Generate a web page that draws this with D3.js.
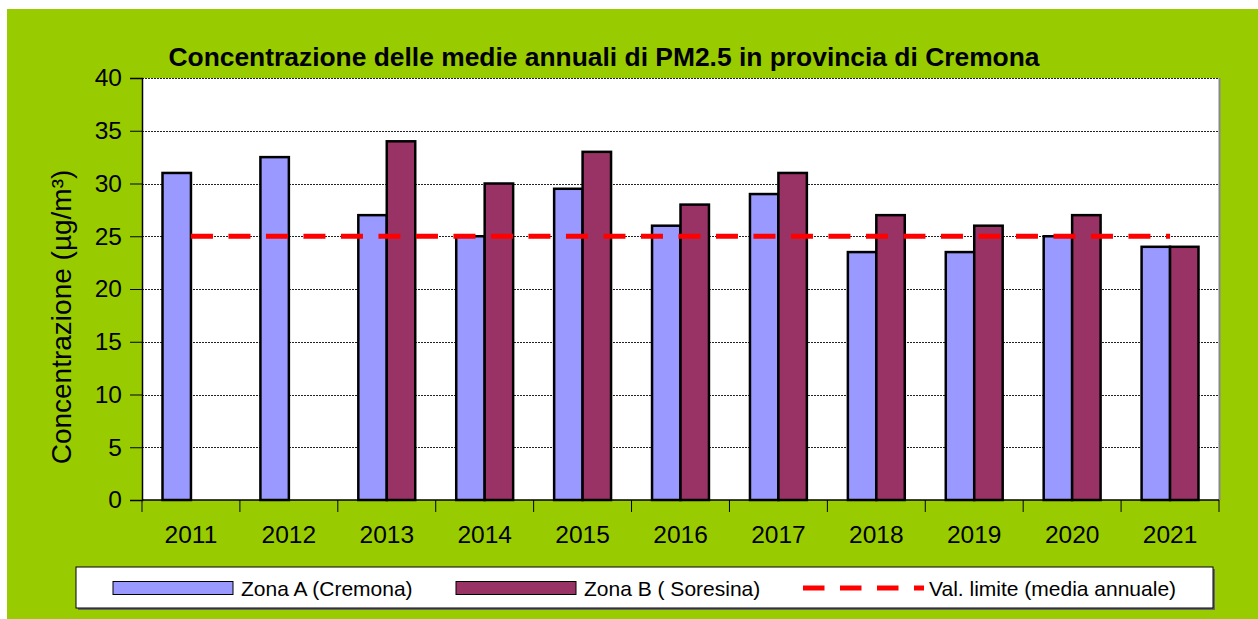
<!DOCTYPE html>
<html>
<head>
<meta charset="utf-8">
<script src="https://cdn.jsdelivr.net/npm/d3@7"></script>
<style>
  html, body { margin: 0; padding: 0; background: #fff; }
  svg { display: block; }
  text { font-family: "Liberation Sans", Arial, sans-serif; }
</style>
</head>
<body>
<svg id="chart" width="1258" height="619"></svg>
<script>
const years = ["2011","2012","2013","2014","2015","2016","2017","2018","2019","2020","2021"];
const zonaA = [31, 32.5, 27, 25, 29.5, 26, 29, 23.5, 23.5, 25, 24];
const zonaB = [null, null, 34, 30, 33, 28, 31, 27, 26, 27, 24];
const limite = [25, 25, 25, 25, 25, 25, 25, 25, 25, 25, 25];
const yTicks = [0, 5, 10, 15, 20, 25, 30, 35, 40];
const seriesNames = ["Zona A (Cremona)", "Zona B ( Soresina)", "Val. limite (media annuale)"];
const colors = ["#9999FF", "#993366", "#FF0000"];
const titleText = "Concentrazione delle medie annuali di PM2.5 in provincia di Cremona";
const yTitleText = "Concentrazione (µg/m³)";

const svg = d3.select("#chart");
const W = 1258, H = 619;
const plot = {left: 142, right: 1219, top: 78, bottom: 500};

// background
svg.append("rect").attr("x", 0).attr("y", 0).attr("width", W).attr("height", H).attr("fill", "#fff");
svg.append("rect").attr("x", 7).attr("y", 9).attr("width", W - 7).attr("height", H - 9).attr("fill", "#99CC00");

const x = d3.scaleBand().domain(years).range([plot.left, plot.right]).padding(0);
const xs = d3.scaleBand().domain(["A", "B"]).range([20.5, x.bandwidth() - 20.5]).padding(0);
const y = d3.scaleLinear().domain([0, 40]).range([plot.bottom, plot.top]);

// plot area
svg.append("rect").attr("x", plot.left).attr("y", plot.top)
  .attr("width", plot.right - plot.left).attr("height", plot.bottom - plot.top)
  .attr("fill", "#fff");

// gridlines
svg.append("g").selectAll("line").data(yTicks.filter(d => d > 0)).join("line")
  .attr("x1", plot.left).attr("x2", plot.right)
  .attr("y1", d => Math.round(y(d)) + 0.5).attr("y2", d => Math.round(y(d)) + 0.5)
  .attr("stroke", "#222").attr("stroke-width", 1).attr("stroke-dasharray", "2,1");

// right border
svg.append("line").attr("x1", plot.right + 0.5).attr("x2", plot.right + 0.5)
  .attr("y1", plot.top).attr("y2", plot.bottom)
  .attr("stroke", "#888").attr("stroke-width", 2);

// bars
const bars = [];
years.forEach((yr, i) => {
  if (zonaA[i] != null) bars.push({yr, s: "A", v: zonaA[i], c: colors[0]});
  if (zonaB[i] != null) bars.push({yr, s: "B", v: zonaB[i], c: colors[1]});
});
svg.append("g").selectAll("rect").data(bars).join("rect")
  .attr("x", d => x(d.yr) + xs(d.s))
  .attr("y", d => y(d.v))
  .attr("width", xs.bandwidth())
  .attr("height", d => y(0) - y(d.v))
  .attr("fill", d => d.c)
  .attr("stroke", "#000").attr("stroke-width", 2.5);

// limit line
const line = d3.line().x((d, i) => x(years[i]) + x.bandwidth() / 2).y(d => y(d));
svg.append("path").datum(limite).attr("d", line)
  .attr("fill", "none").attr("stroke", colors[2]).attr("stroke-width", 5)
  .attr("stroke-dasharray", "22,15.5");

// axes
const yAxis = d3.axisLeft(y).tickValues(yTicks).tickSize(12).tickPadding(8);
const gy = svg.append("g").attr("transform", `translate(${plot.left},0)`).call(yAxis);
gy.select(".domain").attr("stroke", "#000").attr("stroke-width", 1.5);
gy.selectAll(".tick line").attr("stroke", "#000");
gy.selectAll(".tick text").attr("font-size", 24.5).attr("fill", "#000")
  .attr("font-family", "Liberation Sans, Arial, sans-serif");

const xAxis = d3.axisBottom(x).tickSize(0).tickPadding(0);
const gx = svg.append("g").attr("transform", `translate(0,${plot.bottom})`).call(xAxis);
gx.select(".domain").remove();
gx.append("line").attr("x1", plot.left).attr("x2", plot.right).attr("y1", 0).attr("y2", 0)
  .attr("stroke", "#000").attr("stroke-width", 1.5);
gx.selectAll(".tick text").attr("font-size", 24.5).attr("fill", "#000").attr("dy", 0)
  .attr("y", 43).attr("font-family", "Liberation Sans, Arial, sans-serif");
// category boundary ticks
const bounds = years.map(d => x(d)).concat([plot.right]);
gx.append("g").selectAll("line").data(bounds).join("line")
  .attr("x1", d => d).attr("x2", d => d).attr("y1", 0).attr("y2", 12)
  .attr("stroke", "#000").attr("stroke-width", 1);

// title
svg.append("text").attr("x", 604).attr("y", 66).attr("text-anchor", "middle")
  .attr("font-size", 26.4).attr("font-weight", "bold").attr("fill", "#000")
  .text(titleText);

// y title
svg.append("text").attr("transform", "translate(71,317) rotate(-90)")
  .attr("text-anchor", "middle").attr("font-size", 28).attr("fill", "#000")
  .text(yTitleText);

// legend
const lg = {x: 76, y: 567, w: 1137, h: 41};
svg.append("rect").attr("x", lg.x + 2).attr("y", lg.y + 2).attr("width", lg.w).attr("height", lg.h).attr("fill", "#666");
svg.append("rect").attr("x", lg.x).attr("y", lg.y).attr("width", lg.w).attr("height", lg.h)
  .attr("fill", "#fff").attr("stroke", "#000").attr("stroke-width", 1);
const items = [
  {name: seriesNames[0], type: "bar", c: colors[0], sx: 113, tx: 241},
  {name: seriesNames[1], type: "bar", c: colors[1], sx: 456, tx: 584},
  {name: seriesNames[2], type: "line", c: colors[2], sx: 803, tx: 929}
];
const li = svg.append("g").selectAll("g").data(items).join("g");
li.filter(d => d.type === "bar").append("rect")
  .attr("x", d => d.sx).attr("y", 581.5).attr("width", 120).attr("height", 13)
  .attr("fill", d => d.c).attr("stroke", "#000").attr("stroke-width", 1);
li.filter(d => d.type === "line").append("line")
  .attr("x1", d => d.sx).attr("x2", d => d.sx + 121).attr("y1", 588).attr("y2", 588)
  .attr("stroke", d => d.c).attr("stroke-width", 5).attr("stroke-dasharray", "21.5,15.5");
li.append("text").attr("x", d => d.tx).attr("y", 596).attr("font-size", 21).attr("fill", "#000")
  .text(d => d.name);
</script>
</body>
</html>
